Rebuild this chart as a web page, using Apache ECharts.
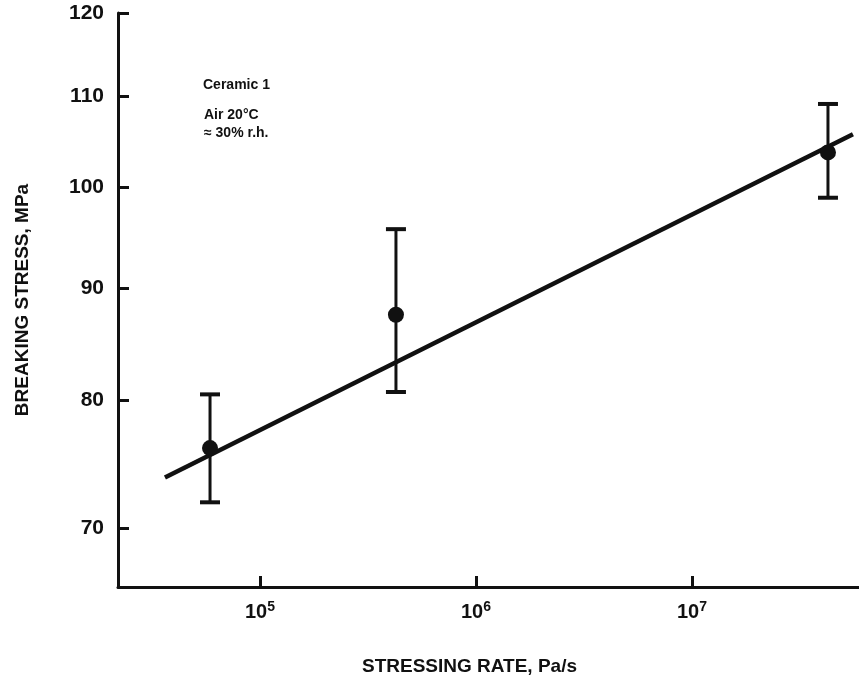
<!DOCTYPE html>
<html><head><meta charset="utf-8">
<script src="https://cdn.jsdelivr.net/npm/echarts@6/dist/echarts.min.js"></script>
<style>html,body{margin:0;padding:0;background:#fff}#c{width:859px;height:681px}</style>
</head><body><div id="c"></div>
<script>
// Data (stressing rate in Pa/s, breaking stress in MPa)
const rates = [5.87e4, 4.26e5, 4.26e7];
const stressMean = [76.1, 87.5, 103.7];
const stressLow = [71.9, 80.7, 98.9];
const stressHigh = [80.5, 95.7, 109.1];
const fitRates = [3.63e4, 5.56e7];
const fitStress = [73.8, 105.7];
const yTicks = [70, 80, 90, 100, 110, 120];
const xTicks = [1e5, 1e6, 1e7];
const xTitle = 'STRESSING RATE, Pa/s';
const yTitle = 'BREAKING STRESS, MPa';
const noteLines = ['Ceramic 1', 'Air 20°C', '≈ 30% r.h.'];

const FONT = 'Liberation Sans';
const INK = '#111';
const chart = echarts.init(document.getElementById('c'), null, {renderer: 'canvas'});

const errData = rates.map((r, i) => [r, stressLow[i], stressHigh[i]]);
const pts = rates.map((r, i) => [r, stressMean[i]]);
const fit = fitRates.map((r, i) => [r, fitStress[i]]);

chart.setOption({
  backgroundColor: '#fff',
  animation: false,
  grid: {left: 118, right: 0, top: 13, bottom: 93},
  xAxis: {
    type: 'log', logBase: 10, min: 22010, max: 5.93e7,
    axisLine: {show: true, lineStyle: {color: INK, width: 3}},
    axisTick: {show: true, inside: true, length: 11, lineStyle: {color: INK, width: 3}, customValues: xTicks},
    axisLabel: {
      customValues: xTicks, margin: 13, color: INK,
      formatter: v => '{b|10}{s|' + Math.round(Math.log10(v)) + '}',
      rich: {
        b: {fontFamily: FONT, fontWeight: 'bold', fontSize: 20, color: INK},
        s: {fontFamily: FONT, fontWeight: 'bold', fontSize: 14, color: INK, verticalAlign: 'top', padding: [0, 0, 10, 0]}
      }
    },
    splitLine: {show: false},
    name: xTitle, nameLocation: 'middle', nameGap: 70,
    nameTextStyle: {fontFamily: FONT, fontWeight: 'bold', fontSize: 19, color: INK, padding: [0, 38, 0, 0]}
  },
  yAxis: {
    type: 'log', logBase: 10, min: 65.8, max: 120,
    axisLine: {show: true, lineStyle: {color: INK, width: 3}},
    axisTick: {show: true, inside: true, length: 11, lineStyle: {color: INK, width: 3}, customValues: yTicks},
    axisLabel: {
      customValues: yTicks, margin: 14, color: INK,
      fontFamily: FONT, fontWeight: 'bold', fontSize: 21,
      formatter: v => String(Math.round(v))
    },
    splitLine: {show: false},
    name: yTitle, nameLocation: 'middle', nameGap: 86, nameRotate: 90,
    nameTextStyle: {fontFamily: FONT, fontWeight: 'bold', fontSize: 19, color: INK}
  },
  series: [
    {
      type: 'line', data: fit, showSymbol: false, symbol: 'none',
      lineStyle: {color: INK, width: 4.5}, z: 2
    },
    {
      type: 'custom', data: errData, z: 3,
      renderItem: (params, api) => {
        const x = api.value(0), lo = api.value(1), hi = api.value(2);
        const a = api.coord([x, lo]), b = api.coord([x, hi]);
        const hw = 10;
        const st = {stroke: INK, lineWidth: 3};
        const cap = {stroke: INK, lineWidth: 4};
        return {type: 'group', children: [
          {type: 'line', shape: {x1: a[0], y1: a[1], x2: b[0], y2: b[1]}, style: st},
          {type: 'line', shape: {x1: a[0] - hw, y1: a[1], x2: a[0] + hw, y2: a[1]}, style: cap},
          {type: 'line', shape: {x1: b[0] - hw, y1: b[1], x2: b[0] + hw, y2: b[1]}, style: cap}
        ]};
      }
    },
    {
      type: 'scatter', data: pts, symbol: 'circle', symbolSize: 16,
      itemStyle: {color: INK, opacity: 1}, z: 4
    }
  ],
  graphic: [
    {type: 'text', left: 203, top: 78, style: {text: noteLines[0], font: 'bold 14px "' + FONT + '"', fill: INK}},
    {type: 'text', left: 204, top: 108, style: {text: noteLines[1], font: 'bold 14px "' + FONT + '"', fill: INK}},
    {type: 'text', left: 204, top: 126, style: {text: noteLines[2], font: 'bold 14px "' + FONT + '"', fill: INK}}
  ]
});
</script></body></html>
